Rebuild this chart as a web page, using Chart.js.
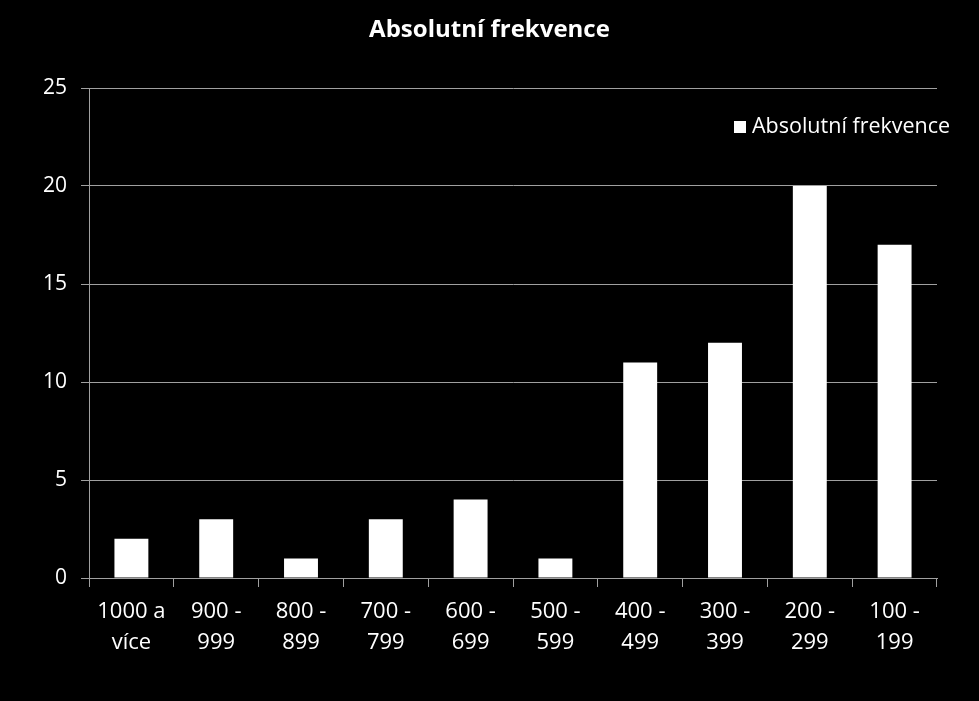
<!DOCTYPE html>
<html>
<head>
<meta charset="utf-8">
<script src="https://cdn.jsdelivr.net/npm/chart.js@4"></script>
<style>
html,body{margin:0;padding:0;background:#000;}
#wrap{width:979px;height:701px;}
</style>
</head>
<body>
<div id="wrap"><canvas id="c" width="979" height="701"></canvas></div>
<script>
const titleText = "Absolutní frekvence";
const seriesLabel = "Absolutní frekvence";
const categories = [
  ["1000 a", "více"], ["900 -", "999"], ["800 -", "899"], ["700 -", "799"],
  ["600 -", "699"], ["500 -", "599"], ["400 -", "499"], ["300 -", "399"],
  ["200 -", "299"], ["100 -", "199"]
];
const values = [2, 3, 1, 3, 4, 1, 11, 12, 20, 17];
const yTicks = [0, 5, 10, 15, 20, 25];

const FONT = "'Open Sans', sans-serif";
const GRID = '#a0a0a0';

const decorations = {
  id: 'decorations',
  afterDraw(chart) {
    const ctx = chart.ctx;
    const ds = chart.data.datasets[0];
    ctx.save();
    // title
    ctx.font = "bold 24px " + FONT;
    ctx.fillStyle = '#ffffff';
    ctx.textBaseline = 'middle';
    ctx.textAlign = 'center';
    ctx.fillText(titleText, chart.width / 2, 30);
    // legend
    ctx.fillStyle = ds.backgroundColor;
    ctx.fillRect(734, 121, 12, 12);
    ctx.font = "21.5px " + FONT;
    ctx.fillStyle = '#ffffff';
    ctx.textAlign = 'left';
    ctx.fillText(ds.label, 752, 127);
    ctx.restore();
  }
};

new Chart(document.getElementById('c'), {
  type: 'bar',
  data: {
    labels: categories,
    datasets: [{
      label: seriesLabel,
      data: values,
      backgroundColor: '#ffffff',
      borderWidth: 0,
      barPercentage: 0.4,
      categoryPercentage: 1.0
    }]
  },
  options: {
    responsive: false,
    animation: false,
    devicePixelRatio: 1,
    layout: { padding: { left: 0, right: 42, top: 88, bottom: 0 } },
    plugins: {
      legend: { display: false },
      tooltip: { enabled: false },
      title: { display: false }
    },
    scales: {
      x: {
        grid: { display: true, drawOnChartArea: false, color: GRID, tickLength: 9, offset: true },
        border: { display: true, color: GRID, width: 1 },
        ticks: { color: '#ffffff', font: { family: FONT, size: 22, lineHeight: 1.38 }, padding: 10, maxRotation: 0, autoSkip: false },
        afterFit(scale) { scale.height = 123; }
      },
      y: {
        min: 0, max: 25,
        afterBuildTicks(scale) { scale.ticks = yTicks.map(v => ({ value: v })); },
        grid: { color: GRID, tickLength: 8, drawTicks: true },
        border: { display: true, color: GRID, width: 1 },
        ticks: { color: '#ffffff', font: { family: FONT, size: 21 }, padding: 14 },
        afterFit(scale) { scale.width = 89; }
      }
    }
  },
  plugins: [decorations]
});
</script>
</body>
</html>
